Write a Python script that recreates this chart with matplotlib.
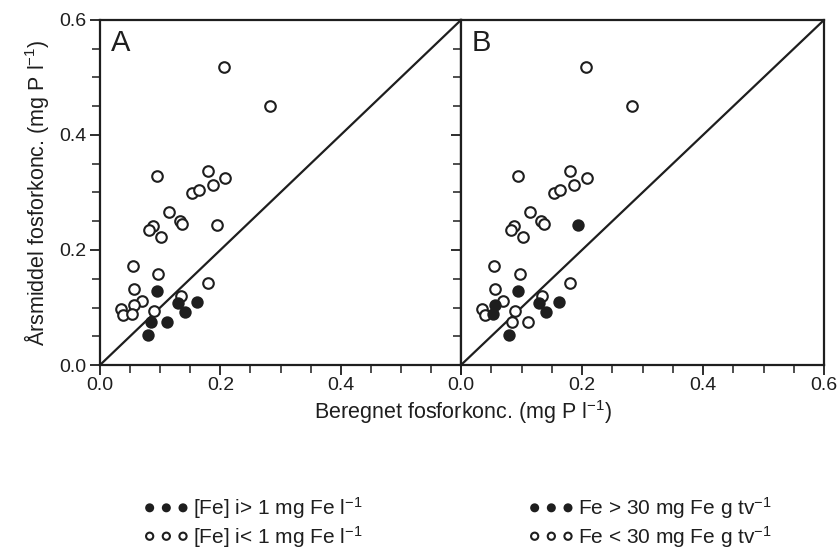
import numpy as np
import matplotlib
matplotlib.use("Agg")
import matplotlib.pyplot as plt

plt.rcParams['font.family'] = ['Liberation Sans', 'DejaVu Sans']
plt.rcParams['mathtext.default'] = 'regular'

# beregnet (x) og maalt aarsmiddel (y), mg P/l
beregnet = [0.206, 0.283, 0.095, 0.180, 0.208, 0.153, 0.164, 0.187, 0.114, 0.133, 0.137,
            0.088, 0.082, 0.102, 0.194, 0.055, 0.097, 0.180, 0.057, 0.070, 0.057, 0.035,
            0.039, 0.053, 0.134, 0.089, 0.095, 0.129, 0.162, 0.141, 0.084, 0.111, 0.079]
aarsmiddel = [0.518, 0.451, 0.328, 0.337, 0.325, 0.299, 0.304, 0.313, 0.266, 0.251, 0.245,
              0.242, 0.234, 0.223, 0.243, 0.172, 0.158, 0.143, 0.132, 0.112, 0.104, 0.097,
              0.087, 0.088, 0.120, 0.094, 0.128, 0.108, 0.110, 0.092, 0.074, 0.074, 0.053]
# A: [Fe] i > 1 mg Fe/l
fyldt_A = [0]*26 + [1, 1, 1, 1, 1, 1, 1]
# B: Fe > 30 mg Fe/g tv
fyldt_B = [0]*14 + [1] + [0]*5 + [1, 0, 0, 1, 0, 0, 1, 1, 1, 1, 0, 0, 1]

ticks = [0.0, 0.2, 0.4, 0.6]
leg_A = ["[Fe] i> 1 mg Fe l$^{-1}$", "[Fe] i< 1 mg Fe l$^{-1}$"]
leg_B = ["Fe > 30 mg Fe g tv$^{-1}$", "Fe < 30 mg Fe g tv$^{-1}$"]

farve = "#1e1e1e"
x = np.array(beregnet)
y = np.array(aarsmiddel)

fig = plt.figure(figsize=(8.39, 5.49), dpi=100)
axA = fig.add_axes([100/839, 184/549, 361/839, 345/549])
axB = fig.add_axes([461/839, 184/549, 363/839, 345/549])

handles = {}
for ax, navn, maske in [(axA, "A", fyldt_A), (axB, "B", fyldt_B)]:
    m = np.array(maske, dtype=bool)
    ax.plot([0, 0.6], [0, 0.6], color=farve, lw=1.6, zorder=1)
    h_fyldt = ax.scatter(x[m], y[m], s=58, facecolor=farve, edgecolor=farve, lw=1.3, zorder=3)
    h_aaben = ax.scatter(x[~m], y[~m], s=58, facecolor="white", edgecolor=farve, lw=1.5, zorder=2)
    handles[navn] = (h_fyldt, h_aaben)
    ax.set_xlim(0, 0.6)
    ax.set_ylim(0, 0.6)
    ax.set_xticks(ticks)
    ax.set_yticks(ticks)
    ax.set_xticks(np.arange(0, 0.61, 0.05), minor=True)
    ax.set_yticks(np.arange(0, 0.61, 0.05), minor=True)
    ax.tick_params(which="major", direction="out", length=7, width=1.3, colors=farve,
                   labelsize=14, top=False, right=False, pad=3)
    ax.tick_params(which="minor", direction="out", length=6, width=1.1, colors=farve,
                   top=False, right=False)
    ax.tick_params(axis="x", which="major", pad=2)
    for s in ax.spines.values():
        s.set_linewidth(1.6)
        s.set_color(farve)
    ax.text(0.03, 0.975, navn, transform=ax.transAxes, fontsize=21, color=farve,
            ha="left", va="top")

axA.set_xticklabels(["0.0", "0.2", "0.4", ""])
axA.set_yticklabels(["0.0", "0.2", "0.4", "0.6"])
axB.set_xticklabels(["0.0", "0.2", "0.4", "0.6"])
axB.set_yticklabels([])

axA.set_ylabel("Årsmiddel fosforkonc. (mg P l$^{-1}$)", fontsize=15.5, color=farve, labelpad=6)
fig.text(463/839, 1 - 412/549, "Beregnet fosforkonc. (mg P l$^{-1}$)", fontsize=15.5,
         color=farve, ha="center", va="center")

for hnd, tekster, x0 in [(handles["A"], leg_A, 133), (handles["B"], leg_B, 518)]:
    fig.legend(hnd, tekster, loc="upper left", bbox_to_anchor=(x0/839, 1 - 485/549),
               frameon=False, scatterpoints=3, scatteryoffsets=[0.5], markerscale=0.68,
               fontsize=15, handlelength=2.2, handletextpad=0.2, labelspacing=0.12,
               borderpad=0, labelcolor=farve)

fig.savefig("out.png", dpi=100, facecolor="white")
